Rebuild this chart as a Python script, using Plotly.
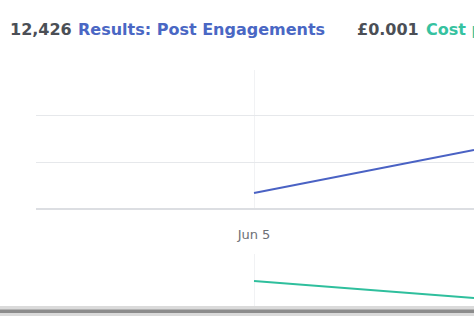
import plotly.graph_objects as go

dates = ["2017-06-05", "2017-06-06"]
engagements = [1700, 6280]
cost_per = [0.00096, 0.00031]
tick_vals = ["2017-06-05"]
tick_text = ["Jun 5"]
total_results = "12,426"
results_label = "Results: Post Engagements"
avg_cost = "£0.001"
cost_label = "Cost per Post Engagement"

W, H = 474, 316
def py(p):
    return (H - p) / H

BLUE = "#4a62c4"
GREEN = "#2fbf9d"
GRID = "#e6e8eb"

fig = go.Figure()
fig.add_trace(go.Scatter(x=dates, y=engagements, mode="lines",
                         line=dict(color=BLUE, width=2), xaxis="x", yaxis="y",
                         hoverinfo="skip", showlegend=False))
fig.add_trace(go.Scatter(x=dates, y=cost_per, mode="lines",
                         line=dict(color=GREEN, width=2), xaxis="x2", yaxis="y2",
                         hoverinfo="skip", showlegend=False))

xrange = ["2017-06-04 00:13", "2017-06-06 00:00"]
fig.update_layout(
    width=W, height=H,
    margin=dict(l=0, r=0, t=0, b=0),
    paper_bgcolor="white", plot_bgcolor="white",
    xaxis=dict(domain=[36 / W, 1], range=xrange, type="date",
               tickvals=tick_vals, ticktext=tick_text,
               showgrid=True, gridcolor="#f1f2f4", gridwidth=1,
               ticks="outside", ticklen=13, tickcolor="rgba(0,0,0,0)",
               tickfont=dict(family="DejaVu Sans", size=13, color="#6d7076"),
               anchor="y", showline=False, zeroline=False),
    xaxis2=dict(domain=[36 / W, 1], range=xrange, type="date",
                tickvals=tick_vals, showticklabels=False,
                showgrid=True, gridcolor="#f1f2f4", gridwidth=1,
                anchor="y2", showline=False, zeroline=False),
    yaxis=dict(domain=[py(209), py(70)], range=[0, 15000 * 139 / 141],
               tickvals=[0, 5000, 10000], showticklabels=False,
               showgrid=True, gridcolor=GRID, gridwidth=1,
               zeroline=True, zerolinecolor="#dcdee2", zerolinewidth=2,
               anchor="x"),
    yaxis2=dict(domain=[py(306), py(254)], range=[0, 0.002],
                tickvals=[0.002], showticklabels=False,
                showgrid=True, gridcolor="#e6e7ea", gridwidth=2,
                zeroline=False, anchor="x2"),
)

hdr_y = py(30)
fig.add_annotation(x=8 / W, y=hdr_y, xref="paper", yref="paper",
                   xanchor="left", yanchor="middle", showarrow=False,
                   text="<b>" + total_results + "</b>",
                   font=dict(family="DejaVu Sans", size=16, color="#4b4f56"))
fig.add_annotation(x=76 / W, y=hdr_y, xref="paper", yref="paper",
                   xanchor="left", yanchor="middle", showarrow=False,
                   text="<b>" + results_label + "</b>",
                   font=dict(family="DejaVu Sans", size=16, color="#4a67c4"))
fig.add_annotation(x=355 / W, y=hdr_y, xref="paper", yref="paper",
                   xanchor="left", yanchor="middle", showarrow=False,
                   text="<b>" + avg_cost + "</b>",
                   font=dict(family="DejaVu Sans", size=16, color="#4b4f56"))
fig.add_annotation(x=424 / W, y=hdr_y, xref="paper", yref="paper",
                   xanchor="left", yanchor="middle", showarrow=False,
                   text="<b>" + cost_label + "</b>",
                   font=dict(family="DejaVu Sans", size=16, color="#36c2a0"))

# bottom window edge
fig.add_shape(type="rect", xref="paper", yref="paper", x0=0, x1=1,
              y0=py(316), y1=py(306), fillcolor="#dadada", line_width=0, layer="above")
fig.add_shape(type="rect", xref="paper", yref="paper", x0=0, x1=1,
              y0=py(313), y1=py(309.5), fillcolor="#8c8c8c", line_width=0, layer="above")

fig.write_html("out.html")
